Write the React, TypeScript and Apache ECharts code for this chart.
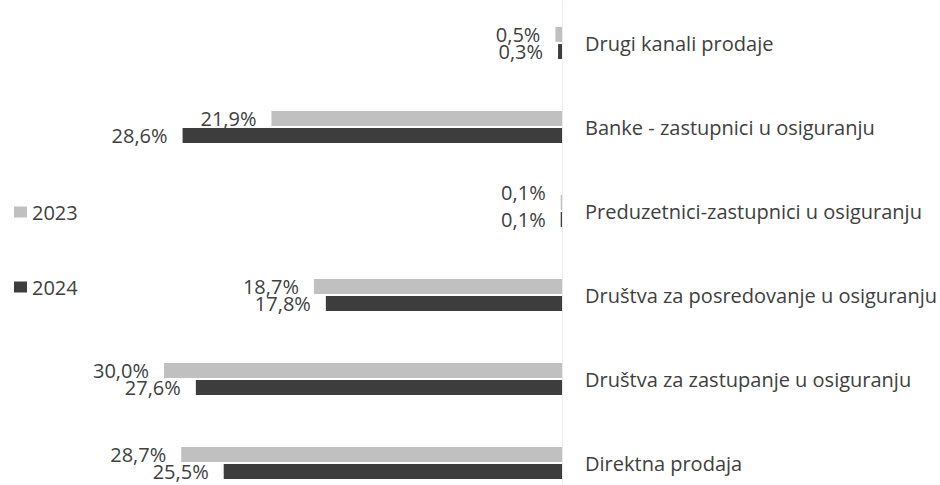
import React, { useEffect, useRef } from "react";
import * as echarts from "echarts";

const categories = [
  "Drugi kanali prodaje",
  "Banke - zastupnici u osiguranju",
  "Preduzetnici-zastupnici u osiguranju",
  "Društva za posredovanje u osiguranju",
  "Društva za zastupanje u osiguranju",
  "Direktna prodaja",
];
const values2023 = [0.5, 21.9, 0.1, 18.7, 30.0, 28.7];
const values2024 = [0.3, 28.6, 0.1, 17.8, 27.6, 25.5];
const seriesNames = ["2023", "2024"];

const FONT = "Open Sans";
const TEXT = "#404040";
const FS = 20;
const fmt = (v: number) => v.toFixed(1).replace(".", ",") + "%";

export default function App() {
  const ref = useRef<HTMLDivElement>(null);
  useEffect(() => {
    if (!ref.current) return;
    const chart = echarts.init(ref.current, undefined, { renderer: "svg" });
    const mk = (name: string, vals: number[], color: string, idx: number) => ({
      name,
      type: "bar",
      barWidth: 15,
      barGap: "14%",
      data: vals.map((v, i) => {
        const item: any = { value: v };
        if (idx === 0 && i === 2) item.label = { offset: [0, -10] };
        return item;
      }),
      itemStyle: { color },
      label: {
        show: true,
        position: "left",
        distance: 15,
        formatter: (p: any) => fmt(p.value),
        color: TEXT,
        fontFamily: FONT,
        fontSize: FS,
      },
    });
    chart.setOption({
      animation: false,
      textStyle: { fontFamily: FONT },
      legend: {
        orient: "vertical",
        left: 9,
        top: 197,
        itemWidth: 13,
        itemHeight: 11,
        itemGap: 55,
        icon: "rect",
        data: seriesNames,
        textStyle: { color: TEXT, fontFamily: FONT, fontSize: FS },
      },
      grid: { left: 164, right: 377, top: 1, height: 504 },
      xAxis: {
        type: "value",
        inverse: true,
        min: 0,
        max: 30,
        show: false,
      },
      yAxis: {
        type: "category",
        inverse: true,
        position: "right",
        data: categories,
        axisTick: { show: false },
        axisLine: { show: true, lineStyle: { color: "#ececec", width: 1 } },
        axisLabel: {
          align: "left",
          margin: 23,
          color: TEXT,
          fontFamily: FONT,
          fontSize: FS,
        },
      },
      series: [
        mk(seriesNames[0], values2023, "#c0c0c0", 0),
        mk(seriesNames[1], values2024, "#3d3d3d", 1),
      ],
    });
    return () => chart.dispose();
  }, []);
  return (
    <div
      ref={ref}
      style={{ position: "fixed", left: 0, top: 0, width: 940, height: 510, background: "#fff" }}
    />
  );
}
